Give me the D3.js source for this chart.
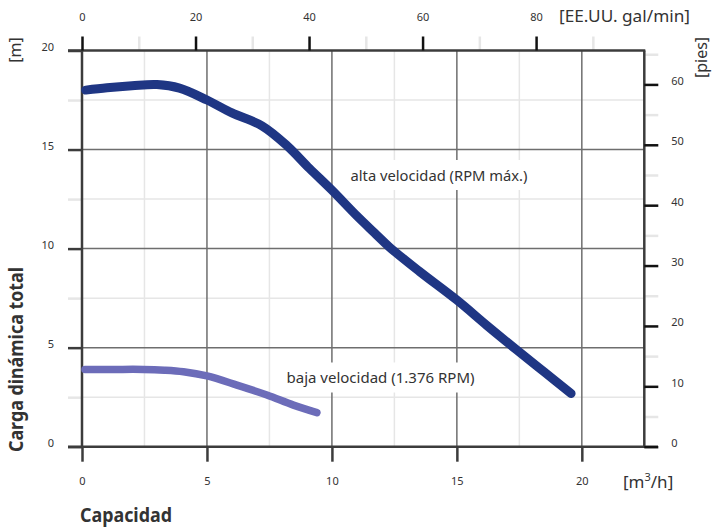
<!DOCTYPE html>
<html>
<head>
<meta charset="utf-8">
<script src="https://cdn.jsdelivr.net/npm/d3@7"></script>
<style>
  html, body { margin: 0; padding: 0; background: #fff; }
  svg text { font-family: "Noto Sans", "Open Sans", sans-serif; fill: #333; }
</style>
</head>
<body>
<svg id="chart" width="719" height="531"></svg>
<script>
// ---- data ----
const flowHigh = [0.15, 1, 2, 3, 3.9, 5, 6, 7.2, 8.2, 9.1, 10, 11, 11.7, 12.3, 13.5, 15, 16.2, 17.4, 18.5, 19.57];
const headHigh = [18.0, 18.12, 18.22, 18.28, 18.1, 17.5, 16.85, 16.2, 15.2, 14.05, 12.95, 11.65, 10.8, 10.08, 8.85, 7.4, 6.12, 4.88, 3.77, 2.69];
const flowLow = [0.12, 1.2, 2.46, 3.3, 4.06, 5.0, 6.2, 7.4, 8.46, 9.4];
const headLow = [3.9, 3.9, 3.9, 3.86, 3.78, 3.57, 3.11, 2.61, 2.1, 1.72];

const xTicks = [0, 5, 10, 15, 20];
const xMinor = [2.5, 7.5, 12.5, 17.5];
const yTicks = [0, 5, 10, 15, 20];
const yMinor = [2.5, 7.5, 12.5, 17.5];
const galTicks = [0, 20, 40, 60, 80];
const galMinor = [10, 30, 50, 70, 90];
const ftTicks = [0, 10, 20, 30, 40, 50, 60];
const ftMinor = [5, 15, 25, 35, 45, 55, 65];

const labelHigh = "alta velocidad (RPM máx.)";
const labelLow = "baja velocidad (1.376 RPM)";

// ---- layout ----
const L = 82, R = 644.3, T = 50.5, B = 446.7;
const xMax = 22.5, yMax = 20;
const GAL_PER_M3H = 4.402868;
const M_PER_FT = 0.3048;

const svg = d3.select("#chart");
const x = d3.scaleLinear().domain([0, xMax]).range([L, R]);
const y = d3.scaleLinear().domain([0, yMax]).range([B, T]);
const xg = d3.scaleLinear().domain([0, xMax * GAL_PER_M3H]).range([L, R]);
const yf = d3.scaleLinear().domain([0, yMax / M_PER_FT]).range([B, T]);

const LIGHT = "#e6e6e6", GRID = "#6e6e6e", AXIS = "#3c3c3c", TICK = "#111";

// light grid
const g = svg.append("g");
g.selectAll(".vl").data(xMinor).join("line")
  .attr("x1", d => x(d)).attr("x2", d => x(d)).attr("y1", T).attr("y2", B)
  .attr("stroke", LIGHT).attr("stroke-width", 1.5);
g.selectAll(".hl").data(yMinor).join("line")
  .attr("x1", L).attr("x2", R).attr("y1", d => y(d)).attr("y2", d => y(d))
  .attr("stroke", LIGHT).attr("stroke-width", 1.5);
// major grid
g.selectAll(".vm").data(xTicks.slice(1)).join("line")
  .attr("x1", d => x(d)).attr("x2", d => x(d)).attr("y1", T).attr("y2", B)
  .attr("stroke", GRID).attr("stroke-width", 1.5);
g.selectAll(".hm").data(yTicks.slice(1, -1)).join("line")
  .attr("x1", L).attr("x2", R).attr("y1", d => y(d)).attr("y2", d => y(d))
  .attr("stroke", GRID).attr("stroke-width", 1.5);

function styleAxis(sel, color, width, fs) {
  sel.select(".domain").remove();
  sel.selectAll(".tick line").attr("stroke", color).attr("stroke-width", width);
  sel.selectAll(".tick text").attr("font-size", fs).attr("fill", "#333")
    .style("font-family", '"Noto Sans", sans-serif');
}

// minor ticks (light)
const lMin = svg.append("g").attr("transform", `translate(${L},0)`)
  .call(d3.axisLeft(y).tickValues(yMinor).tickSize(14).tickFormat(""));
styleAxis(lMin, LIGHT, 2.5, 11);
const tMin = svg.append("g").attr("transform", `translate(0,${T})`)
  .call(d3.axisTop(xg).tickValues(galMinor).tickSize(14).tickFormat(""));
styleAxis(tMin, LIGHT, 2.5, 11);
const rMin = svg.append("g").attr("transform", `translate(${R},0)`)
  .call(d3.axisRight(yf).tickValues(ftMinor).tickSize(14).tickFormat(""));
styleAxis(rMin, LIGHT, 2.5, 11);

// axis frame lines
svg.append("line").attr("x1", 68).attr("x2", 658).attr("y1", B).attr("y2", B)
  .attr("stroke", AXIS).attr("stroke-width", 2.5);
svg.append("line").attr("x1", 68).attr("x2", R + 1).attr("y1", T).attr("y2", T)
  .attr("stroke", AXIS).attr("stroke-width", 2.5);
svg.append("line").attr("x1", L).attr("x2", L).attr("y1", T).attr("y2", B)
  .attr("stroke", AXIS).attr("stroke-width", 2.5);
svg.append("line").attr("x1", R).attr("x2", R).attr("y1", T).attr("y2", B)
  .attr("stroke", AXIS).attr("stroke-width", 2.5);

// major axes
const lAx = svg.append("g").attr("transform", `translate(${L},0)`)
  .call(d3.axisLeft(y).tickValues(yTicks).tickSize(14).tickPadding(14).tickFormat(d3.format("d")));
styleAxis(lAx, AXIS, 2.5, 11);
lAx.selectAll(".tick text").attr("dy", "0").attr("y", 0);

const bAx = svg.append("g").attr("transform", `translate(0,${B})`)
  .call(d3.axisBottom(x).tickValues(xTicks).tickSize(15).tickFormat(d3.format("d")));
styleAxis(bAx, AXIS, 2.5, 11);
bAx.selectAll(".tick text").attr("y", 38).attr("dy", "0");

const tAx = svg.append("g").attr("transform", `translate(0,${T})`)
  .call(d3.axisTop(xg).tickValues(galTicks).tickSize(14).tickFormat(d3.format("d")));
styleAxis(tAx, TICK, 2.5, 11);
tAx.selectAll(".tick text").attr("y", -29.5).attr("dy", "0");

const rAx = svg.append("g").attr("transform", `translate(${R},0)`)
  .call(d3.axisRight(yf).tickValues(ftTicks).tickSize(14).tickPadding(13).tickFormat(d3.format("d")));
styleAxis(rAx, TICK, 2.5, 11);
rAx.selectAll(".tick text").attr("dy", "0").attr("y", 0);

// curve labels with white background
function curveLabel(text, cx, cy, len) {
  const grp = svg.append("g");
  const rect = grp.append("rect").attr("fill", "#fff");
  grp.append("text").text(text).attr("x", cx).attr("y", cy + 5.5)
    .attr("font-size", 15).attr("textLength", len).attr("lengthAdjust", "spacingAndGlyphs");
  rect.attr("x", cx - 8).attr("y", cy - 15).attr("width", len + 16).attr("height", 30);
}
curveLabel(labelHigh, 350.5, 175, 177);
curveLabel(labelLow, 286.5, 377.5, 188);

// curves
const line = d3.line().x(d => x(d[0])).y(d => y(d[1])).curve(d3.curveCatmullRom.alpha(0.5));
svg.append("path").datum(flowLow.map((f, i) => [f, headLow[i]]))
  .attr("d", line).attr("fill", "none").attr("stroke", "#6c6cb9")
  .attr("stroke-width", 7.5).attr("stroke-linecap", "round").attr("stroke-linejoin", "round");
svg.append("path").datum(flowHigh.map((f, i) => [f, headHigh[i]]))
  .attr("d", line).attr("fill", "none").attr("stroke", "#1f3684")
  .attr("stroke-width", 9).attr("stroke-linecap", "round").attr("stroke-linejoin", "round");

// unit labels
svg.append("text").text("[EE.UU. gal/min]").attr("x", 559).attr("y", 21.5)
  .attr("font-size", 16).attr("textLength", 131).attr("lengthAdjust", "spacingAndGlyphs");
const m3 = svg.append("text").attr("x", 623).attr("y", 488).attr("font-size", 17);
m3.append("tspan").text("[m");
m3.append("tspan").text("3").attr("font-size", 11).attr("dy", -7);
m3.append("tspan").text("/h]").attr("dy", 7);

svg.append("text").text("[m]").attr("transform", "translate(20.5,50) rotate(-90)")
  .attr("text-anchor", "middle").attr("font-size", 16);
svg.append("text").text("[pies]").attr("transform", "translate(707,57.5) rotate(-90)")
  .attr("text-anchor", "middle").attr("font-size", 16);

svg.append("text").text("Carga dinámica total")
  .attr("transform", "translate(23,452) rotate(-90)")
  .attr("font-size", 19).attr("font-weight", "bold").attr("fill", "#111")
  .attr("textLength", 185).attr("lengthAdjust", "spacingAndGlyphs");
svg.append("text").text("Capacidad").attr("x", 80).attr("y", 521.7)
  .attr("font-size", 19).attr("font-weight", "bold").attr("fill", "#111")
  .attr("textLength", 92).attr("lengthAdjust", "spacingAndGlyphs");
</script>
</body>
</html>
